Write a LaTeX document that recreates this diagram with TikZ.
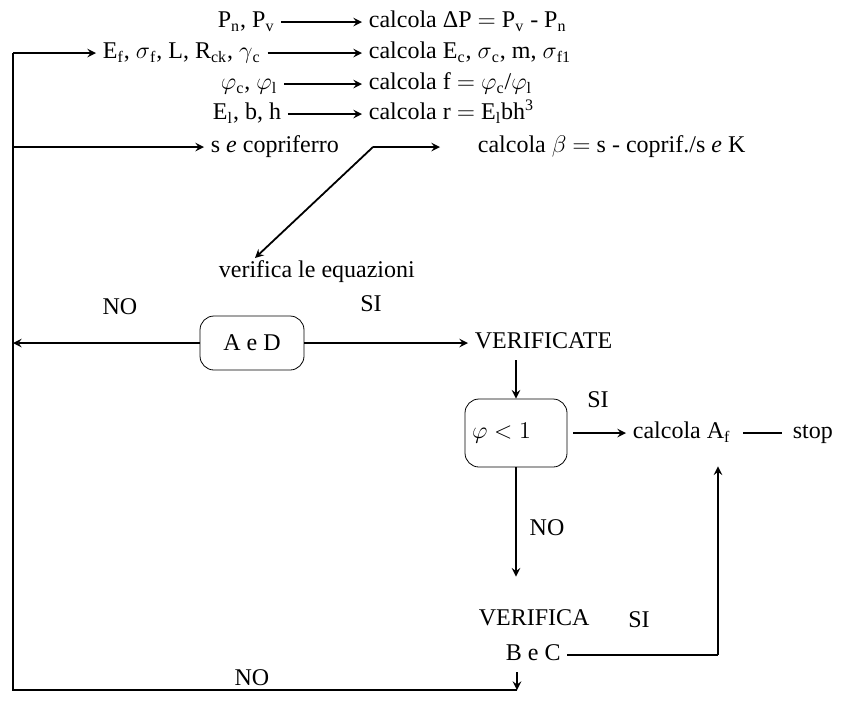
\documentclass[tikz,border=0pt]{standalone}
\usepackage{fontspec}
\setmainfont{Liberation Serif}
\usetikzlibrary{arrows}
\begin{document}
\begin{tikzpicture}[x=0.5pt,y=-0.5pt,>=stealth,line width=0.9pt,
  every node/.style={font=\fontsize{12}{14}\selectfont,inner sep=3pt},
  txt/.style={anchor=west,text height=8pt,text depth=2.5pt},
  decbox/.style={draw,line width=0.4pt,rounded corners=7pt,minimum height=27pt}]
\useasboundingbox (0,0) rectangle (841,708);
\node[txt] (pn) at (211,22) {P\textsubscript{n}, P\textsubscript{v}};
\node[txt] (dp) at (362,22) {calcola ΔP $=$ P\textsubscript{v} - P\textsubscript{n}};
\node[txt] (ef) at (96,53) {E\textsubscript{f}, $\sigma$\textsubscript{f}, L, R\textsubscript{ck}, $\gamma$\textsubscript{c}};
\node[txt] (ec) at (362,53) {calcola E\textsubscript{c}, $\sigma$\textsubscript{c}, m, $\sigma$\textsubscript{f1}};
\node[txt] (phc) at (214,84) {$\varphi$\textsubscript{c}, $\varphi$\textsubscript{l}};
\node[txt] (ff) at (362,84) {calcola f $=$ $\varphi$\textsubscript{c}/$\varphi$\textsubscript{l}};
\node[txt] (el) at (206,114) {E\textsubscript{l}, b, h};
\node[txt] (rr) at (362,114) {calcola r $=$ E\textsubscript{l}bh\textsuperscript{3}};
\node[txt] (sc) at (204,147) {s \textit{e} copriferro};
\node[txt] (beta) at (471,147) {calcola $\beta$ $=$ s - coprif./s \textit{e} K};
\node[txt] (ver) at (212,272) {verifica le equazioni};
\node[decbox,minimum width=52pt] (aed) at (252,343) {A e D};
\node[txt] (vte) at (468,343) {VERIFICATE};
\node[decbox,minimum width=51pt,minimum height=34pt,text width=44pt,align=left] (phi) at (516,433) {$\varphi < 1$};
\node[txt] (af) at (626,433) {calcola A\textsubscript{f}};
\node[txt] (stop) at (786,433) {stop};
\node[txt] (vf) at (472,620) {VERIFICA};
\node[txt] (bc) at (499,655) {B e C};
% SI / NO
\node (noa) at (120,307) {NO};
\node (sia) at (371,304) {SI};
\node (sib) at (598,400) {SI};
\node (nob) at (547,528) {NO};
\node (sic) at (639,620) {SI};
\node (noc) at (252,678) {NO};
\coordinate (lt) at (13,53);
\coordinate (lb) at (13,690);
\coordinate (bot) at (517,690);
\coordinate (cr) at (718,655);
\coordinate (kink) at (373,147);
\coordinate (bt) at (440,147);
\coordinate (vt) at (255,258);
\draw[->] (pn.east) -- (dp.west);
\draw[->] (ef.east) -- (ec.west);
\draw[->] (phc.east) -- (ff.west);
\draw[->] (el.east) -- (rr.west);
\draw (bot) -- (lb) -- (lt);
\draw[->] (lt) -- (ef.west);
\draw[->] (lt |- sc.west) -- (sc.west);
\draw[->] (kink) -- (bt);
\draw[->] (kink) -- (vt);
\draw[->] (aed.west) -- (aed.west -| lt);
\draw[->] (aed.east) -- (vte.west);
\draw[->] (vte.south -| phi.north) -- (phi.north);
\draw[->,shorten <=3pt] (phi.east) -- (af.west);
\draw[shorten <=3pt,shorten >=2pt] (af.east) -- (stop.west);
\draw[->,shorten >=13pt] (phi.south) -- (phi.south |- vf.north);
\draw (bc.east) -- (cr);
\draw[->,shorten >=8pt] (cr) -- (cr |- af.south);
\draw[->] (bc.south -| bot) -- (bot);
\end{tikzpicture}
\end{document}
